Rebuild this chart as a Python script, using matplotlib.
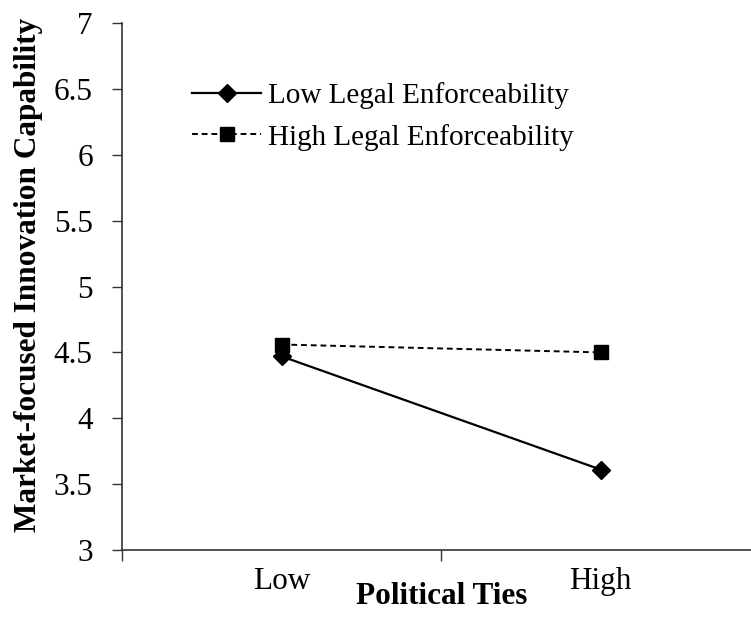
import matplotlib.pyplot as plt

plt.rcParams['font.family'] = ['Liberation Serif', 'DejaVu Serif']

categories = ['Low', 'High']
low_legal = [4.47, 3.61]
high_legal = [4.56, 4.50]
series_names = ['Low Legal Enforceability', 'High Legal Enforceability']
y_ticks = [3, 3.5, 4, 4.5, 5, 5.5, 6, 6.5, 7]

fig = plt.figure(figsize=(7.51, 6.22), dpi=100)
ax = fig.add_axes([0.1625, 0.1158, 0.85, 0.847])

x = [1, 2]
ax.plot(x, low_legal, color='black', lw=1.6, marker='D', markersize=9,
        label=series_names[0])
ax.plot(x, high_legal, color='black', lw=1.4, ls=(0, (3, 2)), marker='s',
        markersize=10.5, label=series_names[1])

ax.set_xlim(0.5, 2.5)
ax.set_ylim(3, 7)
ax.set_yticks(y_ticks)
ax.set_yticklabels(['3', '3.5', '4', '4.5', '5', '5.5', '6', '6.5', '7'])
ax.set_xticks([0.5, 1.5, 2.5])
ax.set_xticklabels(['', '', ''])
ax.set_xticks(x, minor=True)
ax.set_xticklabels(categories, minor=True)
ax.tick_params(axis='x', which='minor', length=0, pad=12, labelsize=22.5)
ax.tick_params(axis='x', which='major', length=8, width=1, color='#333333')
ax.tick_params(axis='y', length=7, width=1, color='#333333', pad=14, labelsize=22.5)

for side in ['top', 'right']:
    ax.spines[side].set_visible(False)
for side in ['left', 'bottom']:
    ax.spines[side].set_color('#333333')
    ax.spines[side].set_linewidth(1.2)

ax.set_ylabel('Market-focused Innovation Capability', fontsize=22.5,
              fontweight='bold')
ax.yaxis.set_label_coords(-0.124, 0.522)
ax.set_xlabel('Political Ties', fontsize=22.5, fontweight='bold', labelpad=-10)

ax.legend(loc='upper left', bbox_to_anchor=(0.069, 0.938), frameon=False,
          fontsize=21, handlelength=2.35, numpoints=1, labelspacing=0.5,
          handletextpad=0.25)

fig.savefig('out.png', dpi=100)
